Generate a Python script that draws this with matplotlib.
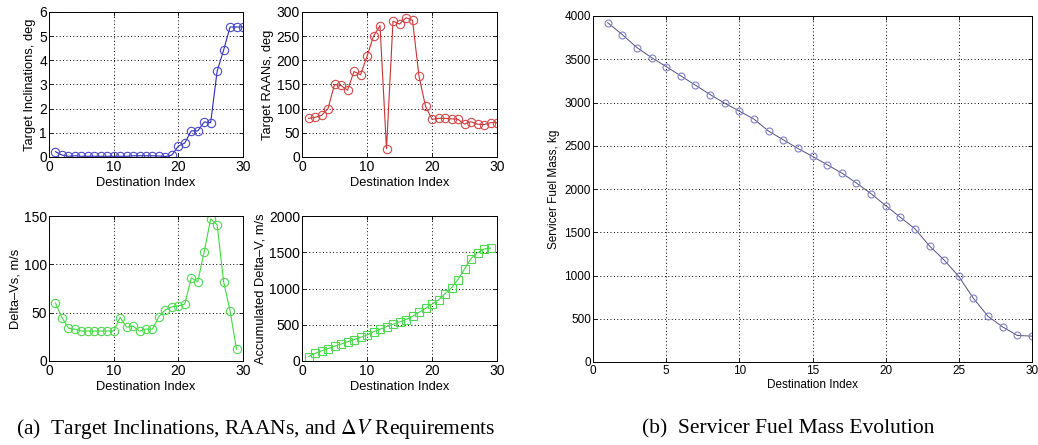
import matplotlib
matplotlib.use("Agg")
import matplotlib.pyplot as plt
import numpy as np

plt.rcParams['font.family'] = ['Liberation Sans', 'DejaVu Sans']
plt.rcParams['mathtext.fontset'] = 'stix'

dest_30 = list(range(1, 31))
dest_29 = list(range(1, 30))

inclinations = [0.22, 0.08, 0.03, 0.05, 0.03, 0.03, 0.03, 0.03, 0.03, 0.03,
                0.03, 0.03, 0.05, 0.05, 0.05, 0.05, 0.04, 0.02, 0.08, 0.45,
                0.58, 1.08, 1.08, 1.45, 1.42, 3.55, 4.42, 5.38, 5.38, 5.38]

raans = [80, 82, 86, 100, 150, 148, 138, 177, 170, 208,
         250, 272, 17, 281, 275, 288, 283, 167, 105, 78,
         80, 80, 79, 78, 68, 73, 68, 67, 71, 71]

delta_vs = [60, 45, 34, 33, 31, 31, 31, 31, 31, 31,
            45, 35, 36, 31, 33, 33, 46, 53, 56, 57,
            59, 86, 82, 113, 147, 141, 82, 52, 12]

accum_dv = [60, 105, 139, 172, 203, 234, 265, 296, 327, 358,
            403, 438, 474, 505, 538, 571, 617, 670, 726, 783,
            842, 928, 1010, 1123, 1270, 1411, 1493, 1545, 1557]

fuel_mass = [3923, 3785, 3635, 3519, 3415, 3308, 3200, 3092, 2992, 2900,
             2808, 2669, 2569, 2469, 2377, 2281, 2185, 2069, 1946, 1808,
             1673, 1540, 1341, 1178, 989, 735, 527, 405, 307, 299]

caption_a = r"(a)  Target Inclinations, RAANs, and $\Delta V$ Requirements"
caption_b = "(b)  Servicer Fuel Mass Evolution"

fig = plt.figure(figsize=(10.38, 4.45), dpi=100)

W, H = 1038.0, 445.0
def box(l, t, r, b):
    return [l / W, 1 - b / H, (r - l) / W, (b - t) / H]

def style(ax, fs):
    ax.tick_params(direction='in', length=3, width=0.6, labelsize=fs, pad=2.5,
                   top=True, right=True)
    ax.tick_params(axis='y', pad=1.5)
    ax.grid(True, color='black', linestyle=(0, (1, 2.5)), linewidth=0.7)
    for s in ax.spines.values():
        s.set_linewidth(0.7)

LFS = 9.3
TFS = 10

ax1 = fig.add_axes(box(49, 12, 243, 157))
ax1.plot(dest_30, inclinations, '-o', color='#2a2ab4', lw=0.8, ms=6,
         mfc='none', mec='#4a4ac8', mew=0.8)
ax1.set_xlim(0, 30); ax1.set_ylim(0, 6)
ax1.set_xticks([0, 10, 20, 30]); ax1.set_yticks(range(0, 7))
ax1.set_xlabel('Destination Index', fontsize=LFS, labelpad=1.5)
ax1.set_ylabel('Target Inclinations, deg', fontsize=LFS, labelpad=2)
style(ax1, TFS)

ax2 = fig.add_axes(box(302, 12, 497, 157))
ax2.plot(dest_30, raans, '-o', color='#c83232', lw=0.8, ms=6,
         mfc='none', mec='#d04848', mew=0.8)
ax2.set_xlim(0, 30); ax2.set_ylim(0, 300)
ax2.set_xticks([0, 10, 20, 30]); ax2.set_yticks(range(0, 301, 50))
ax2.set_xlabel('Destination Index', fontsize=LFS, labelpad=1.5)
ax2.set_ylabel('Target RAANs, deg', fontsize=LFS, labelpad=2)
style(ax2, TFS)

ax3 = fig.add_axes(box(49, 216, 243, 361))
ax3.plot(dest_29, delta_vs, '-o', color='#40d840', lw=0.8, ms=6,
         mfc='none', mec='#50d850', mew=0.8)
ax3.set_xlim(0, 30); ax3.set_ylim(0, 150)
ax3.set_xticks([0, 10, 20, 30]); ax3.set_yticks([0, 50, 100, 150])
ax3.set_xlabel('Destination Index', fontsize=LFS, labelpad=1.5)
ax3.set_ylabel('Delta\u2013Vs, m/s', fontsize=LFS, labelpad=2)
style(ax3, TFS)

ax4 = fig.add_axes(box(302, 216, 497, 361))
ax4.plot(dest_29, accum_dv, '-s', color='#40d840', lw=0.8, ms=6,
         mfc='none', mec='#50d850', mew=0.8)
ax4.set_xlim(0, 30); ax4.set_ylim(0, 2000)
ax4.set_xticks([0, 10, 20, 30]); ax4.set_yticks(range(0, 2001, 500))
ax4.set_xlabel('Destination Index', fontsize=LFS, labelpad=1.5)
ax4.set_ylabel('Accumulated Delta\u2013V, m/s', fontsize=LFS, labelpad=2)
style(ax4, TFS)

ax5 = fig.add_axes(box(593, 16, 1032, 362))
ax5.plot(dest_30, fuel_mass, '-o', color='#505080', lw=0.7, ms=5,
         mfc='none', mec='#8080c8', mew=0.8)
ax5.set_xlim(0, 30); ax5.set_ylim(0, 4000)
ax5.set_xticks(range(0, 31, 5)); ax5.set_yticks(range(0, 4001, 500))
ax5.set_xlabel('Destination Index', fontsize=8.5, labelpad=1)
ax5.set_ylabel('Servicer Fuel Mass, kg', fontsize=8.5, labelpad=3)
style(ax5, 8.5)

fig.text(256 / W, 1 - 429 / H, caption_a, ha='center', va='center',
         fontsize=15.5, family=['Liberation Serif', 'DejaVu Serif'])
fig.text(788 / W, 1 - 429 / H, caption_b, ha='center', va='center',
         fontsize=15.5, family=['Liberation Serif', 'DejaVu Serif'])

fig.savefig('out.png', dpi=100)
